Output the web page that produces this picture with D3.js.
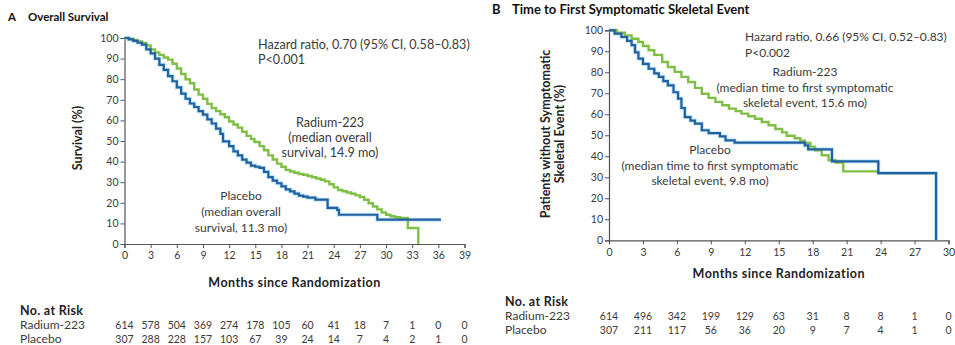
<!DOCTYPE html>
<html>
<head>
<meta charset="utf-8">
<script src="https://cdn.jsdelivr.net/npm/d3@7"></script>
<style>
  html, body { margin: 0; padding: 0; background: #fff; }
  svg text { font-family: Lato, "Liberation Sans", sans-serif; }
</style>
</head>
<body>
<svg id="chart" width="955" height="345"></svg>
<script>
// ---- Panel A: overall survival (month, % surviving) ----
const osRadium = [
  [0,100],[0.5,99.5],[1,99],[1.5,98.3],[2,97.6],[2.5,96.4],[3,94.5],[3.5,93],[4,91.8],[4.5,90.5],
  [5,89.5],[5.5,87.5],[6,85.2],[6.5,82.5],[7,80],[7.5,78],[8,75],[8.5,72.5],[9,70.5],[9.5,68],
  [10,66],[10.5,64.5],[11,63],[11.5,61.5],[12,59.5],[12.5,58],[13,56.5],[13.5,54.5],[14,52.5],
  [14.5,51],[14.9,49.5],[15.5,47.5],[16,45.5],[16.5,43],[17,41],[17.5,39],[18,37.5],[18.5,36],
  [19,35.2],[19.5,34.6],[20,34],[20.5,33.6],[21,33],[21.5,32.4],[22,31.8],[22.5,31.2],[23,30.4],
  [23.5,29],[24,27.5],[24.5,26.2],[25,25.6],[25.5,25],[26,24.4],[26.5,23.6],[27,22.8],[27.5,21.5],
  [28,19.8],[28.5,18.2],[29,16.8],[29.5,15.3],[30,14.2],[30.5,13.5],[31,13],[31.6,12.6],[32.5,7.8],
  [33.7,0]
];
const osPlacebo = [
  [0,100],[0.5,99.3],[1,98.6],[1.5,97.7],[2,96.8],[2.5,94.5],[3,92.5],[3.5,90],[4,87],[4.5,84.5],
  [5,81.5],[5.5,79],[6,76],[6.5,73],[7,70.5],[7.5,68.2],[8,66.5],[8.5,64.5],[9,62.8],[9.5,60.5],
  [10,58.5],[10.5,56],[11,53.5],[11.3,49.8],[12,47.5],[12.5,45],[13,43],[13.5,41],[14,39.5],
  [14.5,38],[15,37.5],[15.5,37],[16,35],[16.5,32.5],[17,30.8],[17.5,29.5],[18,28],[18.5,26.5],
  [19,25.5],[19.5,24.5],[20,23.5],[20.5,23],[21,22.5],[21.9,21.5],[23.3,17.5],[24.4,16.5],
  [24.6,14.2],[29,11.8],[36.3,11.8]
];
const osTicksX = d3.range(0, 40, 3);
const osRiskRadium = [614,578,504,369,274,178,105,60,41,18,7,1,0,0];
const osRiskPlacebo = [307,288,228,157,103,67,39,24,14,7,4,2,1,0];

// ---- Panel B: time to first symptomatic skeletal event (month, % event-free) ----
const sseRadium = [
  [0,100],[0.7,98.8],[1.4,97.6],[2,96],[2.6,94.4],[3,92.5],[3.5,90.5],[4,88.3],[4.7,84.9],
  [5.2,82.5],[5.8,80.2],[6.4,77.8],[7,75.4],[7.6,72.6],[8.2,69.8],[8.8,67.8],[9.4,65.9],
  [10,64.3],[10.6,62.7],[11.2,61.5],[11.7,60.3],[12.3,59.1],[12.9,57.9],[13.5,56.3],[14.1,54.8],
  [14.7,53],[15.3,51.4],[15.7,49.8],[16.4,48.6],[16.9,47.4],[17.3,46.4],[17.8,44.6],[18.2,42.9],
  [18.8,40.5],[19.4,38.1],[20,37],[20.7,32.8],[23.8,32],[28.9,32]
];
const ssePlacebo = [
  [0,100],[0.5,98.4],[1.1,96.8],[1.6,95],[2,92.9],[2.3,89.5],[2.6,86.5],[3,84],[3.5,81.7],
  [4,79.5],[4.4,77.8],[4.8,75.8],[5.2,73.8],[5.7,70.5],[6.1,67.5],[6.4,63],[6.7,58.7],[7.2,57],
  [7.6,55.6],[8.2,52.4],[8.8,51],[9.8,49.5],[10.3,47.6],[11.1,46.5],[16.4,46.5],[17.3,45.2],
  [17.6,43.3],[19.5,43.3],[19.7,37.6],[23.6,37.6],[23.8,32],[28.9,32],[28.9,0]
];
const sseTicksX = d3.range(0, 31, 3);
const sseRiskRadium = [614,496,342,199,129,63,31,8,8,1,0];
const sseRiskPlacebo = [307,211,117,56,36,20,9,7,4,1,0];

const yTicks = d3.range(0, 101, 10);
const seriesNames = ["Radium-223", "Placebo"];

const GREEN = "#80bf45";
const BLUE = "#245fa2";
const HALO = "#9fe0f2";
const TEXT = "#3a3a3a";

const svg = d3.select("#chart");

function panel(cfg) {
  const g = svg.append("g");
  const x = d3.scaleLinear().domain(cfg.xDomain).range(cfg.xRange);
  const y = d3.scaleLinear().domain([0, 100]).range(cfg.yRange);

  // axes
  const yAxis = d3.axisLeft(y).tickValues(yTicks).tickSize(4).tickPadding(2);
  const xAxis = d3.axisBottom(x).tickValues(cfg.xTicks).tickSize(4).tickPadding(4);
  const ga = g.append("g").attr("transform", `translate(${cfg.xRange[0]},0)`).call(yAxis);
  const gb = g.append("g").attr("transform", `translate(0,${cfg.yRange[0]})`).call(xAxis);
  [ga, gb].forEach(a => {
    a.select(".domain").attr("stroke", "#555").attr("stroke-width", 1.2);
    a.selectAll(".tick line").attr("stroke", "#555");
    a.selectAll(".tick text").attr("fill", TEXT).style("font-size", "10.5px")
      .style("font-family", "Lato, 'Liberation Sans', sans-serif");
  });

  // curves
  const line = d3.line().x(d => x(d[0])).y(d => y(d[1])).curve(d3.curveStepAfter);
  g.append("path").datum(cfg.placebo).attr("d", line)
    .attr("fill", "none").attr("stroke", HALO).attr("stroke-width", 4).attr("opacity", 0.7);
  g.append("path").datum(cfg.radium).attr("d", line)
    .attr("fill", "none").attr("stroke", GREEN).attr("stroke-width", 2.4);
  g.append("path").datum(cfg.placebo).attr("d", line)
    .attr("fill", "none").attr("stroke", BLUE).attr("stroke-width", 2.2);

  // title
  const t = g.append("text").attr("x", cfg.titleX).attr("y", cfg.titleY)
    .style("font-size", cfg.titleSize).style("font-weight", "bold").attr("fill", "#111");
  t.append("tspan").text(cfg.letter);
  t.append("tspan").attr("x", cfg.titleX + 20).text(cfg.title);

  // y label
  const yl = g.append("text")
    .attr("transform", `translate(${cfg.yLabelX},${cfg.yLabelY}) rotate(-90)`)
    .attr("text-anchor", "middle").style("font-size", "12.5px").style("font-weight", "bold")
    .attr("fill", "#222");
  cfg.yLabel.forEach((s, i) => yl.append("tspan").attr("x", 0).attr("dy", i ? 14 : 0).text(s));

  // x label
  g.append("text").attr("x", (cfg.xRange[0] + cfg.xRange[1]) / 2).attr("y", cfg.xLabelY)
    .attr("text-anchor", "middle").style("font-size", "12.5px").style("font-weight", "bold")
    .style("letter-spacing", "0.45px").attr("fill", "#222").text("Months since Randomization");

  // annotations
  cfg.notes.forEach(n => {
    const tx = g.append("text").attr("x", n.x).attr("y", n.y)
      .attr("text-anchor", n.anchor || "start").style("font-size", n.size || "12px").attr("fill", TEXT);
    n.lines.forEach((s, i) => tx.append("tspan").attr("x", n.x).attr("dy", i ? n.lh : 0).text(s));
  });

  // number at risk
  g.append("text").attr("x", cfg.riskX).attr("y", cfg.riskY)
    .style("font-size", "12.5px").style("font-weight", "bold").style("letter-spacing", "0.3px")
    .attr("fill", "#222").text("No. at Risk");
  [cfg.riskRadium, cfg.riskPlacebo].forEach((row, r) => {
    const yy = cfg.riskY + 14 * (r + 1);
    g.append("text").attr("x", cfg.riskX).attr("y", yy)
      .style("font-size", "12px").attr("fill", TEXT).text(seriesNames[r]);
    g.selectAll(null).data(row).enter().append("text")
      .attr("x", (d, i) => x(cfg.xTicks[i])).attr("y", yy)
      .attr("text-anchor", "middle").style("font-size", "10.5px").attr("fill", TEXT)
      .text(d => d);
  });
}

panel({
  letter: "A", title: "Overall Survival", titleX: 8, titleY: 21, titleSize: "11.5px",
  xDomain: [0, 39], xRange: [124.5, 464.5], yRange: [244, 38], xTicks: osTicksX,
  radium: osRadium, placebo: osPlacebo,
  yLabel: ["Survival (%)"], yLabelX: 82, yLabelY: 138,
  xLabelY: 287,
  notes: [
    { x: 258, y: 49, lh: 15, size: "12.6px", lines: ["Hazard ratio, 0.70 (95% CI, 0.58\u20130.83)", "P<0.001"] },
    { x: 330, y: 127, lh: 15, size: "12.6px", anchor: "middle", lines: ["Radium-223", "(median overall", "survival, 14.9 mo)"] },
    { x: 241, y: 200, lh: 16, anchor: "middle", lines: ["Placebo", "(median overall", "survival, 11.3 mo)"] }
  ],
  riskX: 20, riskY: 315, riskRadium: osRiskRadium, riskPlacebo: osRiskPlacebo
});

panel({
  letter: "B", title: "Time to First Symptomatic Skeletal Event", titleX: 492, titleY: 14, titleSize: "13px",
  xDomain: [0, 30], xRange: [609, 948.5], yRange: [240.3, 30.3], xTicks: sseTicksX,
  radium: sseRadium, placebo: ssePlacebo,
  yLabel: ["Patients without Symptomatic", "Skeletal Event (%)"], yLabelX: 550, yLabelY: 134,
  xLabelY: 278,
  notes: [
    { x: 745, y: 41, lh: 16, lines: ["Hazard ratio, 0.66 (95% CI, 0.52\u20130.83)", "P<0.002"] },
    { x: 805, y: 76, lh: 15.5, anchor: "middle", lines: ["Radium-223", "(median time to first symptomatic", "skeletal event, 15.6 mo)"] },
    { x: 710, y: 154, lh: 15.5, anchor: "middle", lines: ["Placebo", "(median time to first symptomatic", "skeletal event, 9.8 mo)"] }
  ],
  riskX: 505, riskY: 306, riskRadium: sseRiskRadium, riskPlacebo: sseRiskPlacebo
});
</script>
</body>
</html>
